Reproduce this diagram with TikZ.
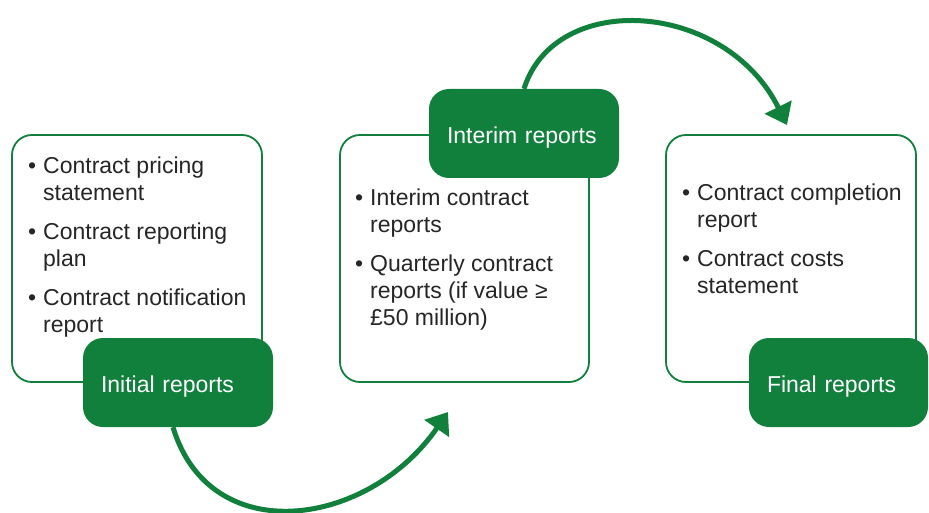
\documentclass[tikz,border=0pt]{standalone}
\usepackage{fontspec}
\setmainfont{Liberation Sans}
\usetikzlibrary{arrows.meta}
\definecolor{stagegreen}{RGB}{16,128,60}
\definecolor{bodytext}{RGB}{38,38,38}
\newcommand{\bul}{\makebox[15pt][l]{\textbullet}}
\newcommand{\ind}{\hspace*{15pt}}
\newcommand{\lowered}[1]{\raisebox{-4pt}[\height][\depth]{#1}}

\begin{document}
\begin{tikzpicture}[x=1pt,y=-1pt,
  panel/.style={draw=stagegreen, line width=1.8pt, fill=white, rounded corners=20pt, inner sep=0pt},
  stage/.style={fill=stagegreen, rounded corners=20pt, text=white, inner ysep=0pt,
    inner xsep=18pt, align=left, text width=#1-36pt,
    font=\fontsize{23}{27}\selectfont, minimum height=89pt},
  items/.style={anchor=north west, align=left, inner sep=0pt, text=bodytext,
    font=\fontsize{23}{27}\selectfont},
  flow/.style={draw=stagegreen, line width=5pt, -{Triangle[length=20pt,width=29pt]}}
]
\useasboundingbox (0,0) rectangle (929,513);

% outlined panels
\node[panel, minimum width=250pt, minimum height=247pt] (b1) at (137,258.5) {};
\node[panel, minimum width=249pt, minimum height=247pt] (b2) at (464.5,258.5) {};
\node[panel, minimum width=250pt, minimum height=247pt] (b3) at (791,258.5) {};

% panel contents
\node[items] (t1) at (28,156.5) {\bul Contract pricing\\ \ind statement\\[12pt]
  \bul Contract reporting\\ \ind plan\\[12pt]
  \bul Contract notification\\ \ind report};
\node[items] (t2) at (355,188.5) {\bul Interim contract\\ \ind reports\\[12pt]
  \bul Quarterly contract\\ \ind reports (if value ≥\\ \ind £50 million)};
\node[items] (t3) at (682,183.5) {\bul Contract completion\\ \ind report\\[12pt]
  \bul Contract costs\\ \ind statement};

% stage labels
\node[stage=190pt] (init) at (178,382.5) {\lowered{Initial reports}};
\node[stage=190pt] (interim) at (524,133.5) {\lowered{Interim reports}};
\node[stage=179pt] (final) at (838.5,382.5) {\lowered{Final reports}};

% transitions between stages
\coordinate (e1) at (448,412);
\coordinate (e2) at (787,125);
\draw[flow] ([xshift=-5pt]init.south) .. controls (210,550) and (368,528) .. (e1);
\draw[flow] (interim.north) .. controls (555,-10) and (725,0) .. (e2);
\end{tikzpicture}
\end{document}
